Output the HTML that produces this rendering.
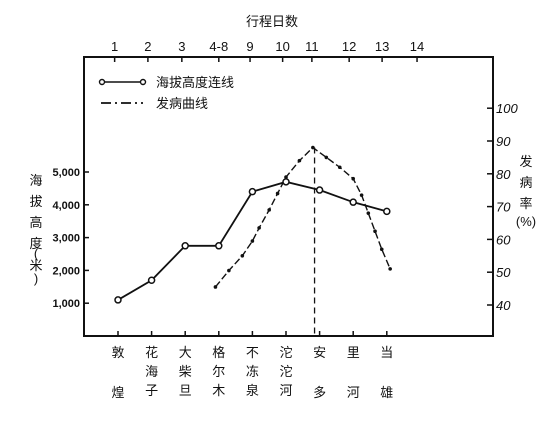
<!DOCTYPE html>
<html><head><meta charset="utf-8"><style>
body{margin:0;background:#fff}
text{font-family:"Liberation Sans","Noto Sans CJK SC",sans-serif;fill:#111}
</style></head><body>
<svg id="c" width="554" height="425" xmlns="http://www.w3.org/2000/svg">
<rect x="0" y="0" width="554" height="425" fill="#fff"/>
</svg>
<script>
const stations=["敦煌","花海子","大柴旦","格尔木","不冻泉","沱沱河","安多","里河","当雄"];
const dayLabels=["1","2","3","4-8","9","10","11","12","13","14"];
const dayPos=[-0.1,0.89,1.9,3.0,3.93,4.9,5.77,6.88,7.86,8.9];
const altitude=[1100,1700,2750,2750,4400,4700,4450,4080,3800];
const altTicks=[1000,2000,3000,4000,5000];
const altTickLabels=["1,000","2,000","3,000","4,000","5,000"];
const rateX=[2.9,3.3,3.7,4.0,4.2,4.5,4.75,5.0,5.4,5.8,6.2,6.6,7.0,7.25,7.45,7.65,7.85,8.1];
const rate=[45.5,50.5,55,59.5,63.5,69,74,79,84,88,85,82,78.5,73.5,68,62.5,57,51];
const rateTicks=[40,50,60,70,80,90,100];
const peakDay=5.85;
const X0=84,X1=493,Y0=57,Y1=336;
const xs=i=>118+i*33.6;
const ya=v=>336-v*0.0328;
const yr=v=>305-(v-40)*3.28;
const svg=document.getElementById('c');
const NS="http://www.w3.org/2000/svg";
function mk(t,a,txt){const e=document.createElementNS(NS,t);for(const k in a)e.setAttribute(k,a[k]);if(txt!==undefined)e.textContent=txt;svg.appendChild(e);return e;}
let e;
e=mk('rect',{x:X0,y:Y0,width:X1-X0,height:Y1-Y0,fill:'none',stroke:'#111','stroke-width':2});


e=mk('text',{x:272,y:26,'font-size':13,'text-anchor':'middle'},'行程日数');


dayLabels.forEach((l,i)=>{const x=xs(dayPos[i]);
e=mk('line',{x1:x,y1:Y0,x2:x,y2:Y0+5,stroke:'#111','stroke-width':1.5});


e=mk('text',{x:x,y:51,'font-size':13,'text-anchor':'middle'},l);

});
stations.forEach((s,i)=>{const x=xs(i);
e=mk('line',{x1:x,y1:Y1,x2:x,y2:Y1-5,stroke:'#111','stroke-width':1.5});


const ch=[...s];ch.forEach((c,j)=>{const y=ch.length==2?357+j*40:357+j*19;
e=mk('text',{x:x,y:y,'font-size':13,'text-anchor':'middle'},c);

});});
altTicks.forEach((v,i)=>{const y=ya(v);
e=mk('line',{x1:X0,y1:y,x2:X0+5,y2:y,stroke:'#111','stroke-width':1.5});


e=mk('text',{x:80,y:y+4,'font-size':11,'text-anchor':'end','font-weight':'bold'},altTickLabels[i]);

});
rateTicks.forEach(v=>{const y=yr(v);
e=mk('line',{x1:X1-6,y1:y,x2:X1,y2:y,stroke:'#111','stroke-width':1.5});


e=mk('text',{x:496,y:y+5,'font-size':13,'font-style':'italic'},String(v));

});
["海","拔","高","度","(","米",")"].forEach((c,j)=>{const y=[185,206,227,248,258,270,283][j];
e=mk('text',{x:36,y:y,'font-size':13,'text-anchor':'middle'},c);

});
["发","病","率","(%)"].forEach((c,j)=>{
e=mk('text',{x:526,y:[166,187,208,226][j],'font-size':13,'text-anchor':'middle'},c);

});
e=mk('line',{x1:xs(peakDay),y1:yr(rate[9]),x2:xs(peakDay),y2:Y1,stroke:'#111','stroke-width':1.3,'stroke-dasharray':'6 4'});


e=mk('polyline',{points:rate.map((v,i)=>xs(rateX[i])+','+yr(v)).join(' '),fill:'none',stroke:'#111','stroke-width':1.4,'stroke-dasharray':'7 3'});


rate.forEach((v,i)=>{e=mk('circle',{cx:xs(rateX[i]),cy:yr(v),r:1.8,fill:'#111'});

});
e=mk('polyline',{points:altitude.map((v,i)=>xs(i)+','+ya(v)).join(' '),fill:'none',stroke:'#111','stroke-width':1.8});


altitude.forEach((v,i)=>{e=mk('circle',{cx:xs(i),cy:ya(v),r:3,fill:'#fff',stroke:'#111','stroke-width':1.5});

});
e=mk('line',{x1:102,y1:82,x2:143,y2:82,stroke:'#111','stroke-width':1.6});


[102,143].forEach(x=>{e=mk('circle',{cx:x,cy:82,r:2.5,fill:'#fff',stroke:'#111','stroke-width':1.4});

});
e=mk('text',{x:156,y:87,'font-size':13},'海拔高度连线');


e=mk('line',{x1:101,y1:103,x2:143,y2:103,stroke:'#111','stroke-width':1.8,'stroke-dasharray':'10 4 2 4'});


e=mk('text',{x:156,y:108,'font-size':13},'发病曲线');


</script>
</body></html>
